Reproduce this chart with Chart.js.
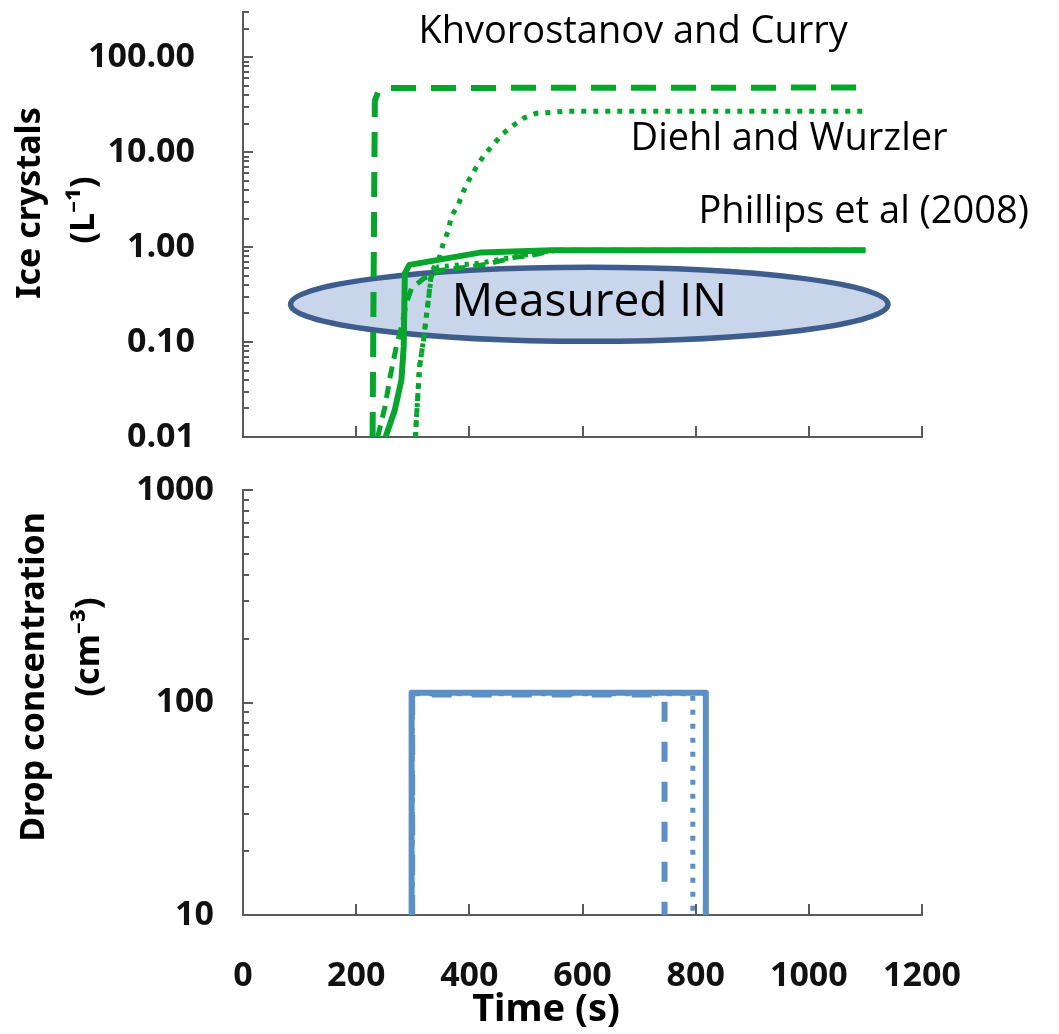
<!DOCTYPE html>
<html>
<head>
<meta charset="utf-8">
<script src="https://cdn.jsdelivr.net/npm/chart.js@4.4.1/dist/chart.umd.min.js"></script>
<style>
  html, body { margin: 0; padding: 0; background: #fff; }
  #wrap { position: relative; width: 1059px; height: 1034px; }
  canvas { position: absolute; left: 0; }
</style>
</head>
<body>
<div id="wrap">
  <canvas id="ice" width="1059" height="460" style="top:0"></canvas>
  <canvas id="drop" width="1059" height="574" style="top:460px"></canvas>
</div>
<script>
// ── Datos ─────────────────────────────────────────────────────────────────
const xTicks    = [0, 200, 400, 600, 800, 1000, 1200];
const iceTicks  = [0.01, 0.1, 1, 10, 100];
const dropTicks = [10, 100, 1000];

// Khvorostanov and Curry (guiones largos)
const kcTime = [229, 233, 240, 255, 1100];
const kcIce  = [0.01, 35, 45, 47.5, 48];
// Diehl and Wurzler (punteado)
const dwTime = [305, 306, 312, 319, 327, 333, 347, 354, 363, 368, 380, 389, 400, 412, 426, 442, 460, 477, 497, 518, 544, 568, 1100];
const dwIce  = [0.01, 0.014, 0.055, 0.105, 0.26, 0.54, 0.78, 1.1, 1.5, 2.1, 2.75, 3.8, 5.2, 6.9, 9.3, 12, 15.8, 19, 23, 25.7, 26.3, 27, 27];
// Phillips et al (2008) (continua)
const phTime = [252, 268, 280, 284, 286, 294, 421, 545, 1100];
const phIce  = [0.01, 0.019, 0.04, 0.089, 0.53, 0.65, 0.88, 0.93, 0.93];
// Measured IN, guiones cortos
const miDashTime = [238, 251, 260, 271, 280, 289, 298, 320, 350, 400, 430, 480, 510, 540, 560, 1100];
const miDashIce  = [0.01, 0.021, 0.043, 0.09, 0.145, 0.26, 0.37, 0.47, 0.57, 0.62, 0.66, 0.78, 0.82, 0.9, 0.93, 0.93];
// Measured IN, punteado
const miDotTime = [305, 306, 312, 319, 327, 333, 345, 420, 480, 545, 1100];
const miDotIce  = [0.01, 0.014, 0.055, 0.105, 0.26, 0.5, 0.62, 0.68, 0.79, 0.92, 0.93];

// Drop concentration
const dropSolidTime  = [298, 298, 818, 818];
const dropSolidConc  = [10, 111, 111, 10];
const dropDashTime   = [299, 299, 745, 745];
const dropDashConc   = [10, 109, 109, 10];
const dropDotTime    = [299, 299, 795, 795];
const dropDotConc    = [10, 110, 110, 10];

// ── Estilos ───────────────────────────────────────────────────────────────
const GREEN = '#06a52b';
const BLUE  = '#5b8fc8';
const AXIS  = '#5a5a5a';
const TICK_FONT  = { family: '"Open Sans", sans-serif', size: 34, weight: 'bold' };
const TITLE_FONT = 'bold 34px "Noto Sans", "Open Sans", sans-serif';

const pts = (xs, ys) => xs.map((x, i) => ({ x, y: ys[i] }));

const minorTicks = (lo, hi) => {
  const out = [];
  for (let d = lo; d < hi; d *= 10)
    for (let k = 2; k <= 9; k++) if (k * d <= hi * 1.0001) out.push(k * d);
  return out;
};

// ── Plugins ───────────────────────────────────────────────────────────────
const innerTicks = {
  id: 'innerTicks',
  afterDraw(chart, args, opts) {
    const { ctx, chartArea: a, scales: { x, y } } = chart;
    ctx.save();
    ctx.strokeStyle = AXIS;
    ctx.lineWidth = 2;
    ctx.beginPath();
    opts.xValues.forEach(v => {
      const px = Math.round(x.getPixelForValue(v));
      ctx.moveTo(px, a.bottom); ctx.lineTo(px, a.bottom - 11);
    });
    opts.yMajor.forEach(v => {
      const py = Math.round(y.getPixelForValue(v));
      ctx.moveTo(a.left, py); ctx.lineTo(a.left + 10, py);
    });
    opts.yMinor.forEach(v => {
      const py = Math.round(y.getPixelForValue(v));
      ctx.moveTo(a.left, py); ctx.lineTo(a.left + 6, py);
    });
    ctx.stroke();
    ctx.restore();
  }
};

const axisTitles = {
  id: 'axisTitles',
  afterDraw(chart, args, opts) {
    const ctx = chart.ctx;
    ctx.save();
    ctx.fillStyle = '#000';
    ctx.textAlign = 'center';
    ctx.textBaseline = 'middle';
    opts.items.forEach(t => {
      ctx.save();
      ctx.font = t.font || TITLE_FONT;
      ctx.translate(t.x, t.y);
      ctx.rotate(t.rot || 0);
      ctx.fillText(t.text, 0, 0);
      ctx.restore();
    });
    ctx.restore();
  }
};

// óvalo "Measured IN" + rótulos de las curvas, en coordenadas de datos
const notes = {
  id: 'notes',
  beforeDatasetsDraw(chart) {
    const { ctx, scales: { x, y } } = chart;
    const cx = x.getPixelForValue(612), cy = y.getPixelForValue(0.25);
    const rx = Math.abs(x.getPixelForValue(612 + 528) - cx);
    const ry = Math.abs(y.getPixelForValue(0.25 * Math.pow(10, 0.39)) - cy);
    ctx.save();
    ctx.beginPath();
    ctx.ellipse(cx, cy, rx, ry, 0, 0, Math.PI * 2);
    ctx.fillStyle = '#c8d5ea';
    ctx.fill();
    ctx.lineWidth = 5.5;
    ctx.strokeStyle = '#3e5d8c';
    ctx.stroke();
    ctx.restore();
  },
  afterDatasetsDraw(chart) {
    const { ctx, scales: { x, y } } = chart;
    ctx.save();
    ctx.fillStyle = '#000';
    ctx.font = '38px "Open Sans", sans-serif';
    ctx.textAlign = 'left';
    ctx.textBaseline = 'alphabetic';
    ctx.fillText('Khvorostanov and Curry', x.getPixelForValue(310), y.getPixelForValue(140));
    ctx.fillText('Diehl and Wurzler', x.getPixelForValue(685), y.getPixelForValue(10.5));
    ctx.fillText('Phillips et al (2008)', x.getPixelForValue(805), y.getPixelForValue(1.78));
    ctx.font = '46px "Open Sans", sans-serif';
    ctx.textAlign = 'center';
    ctx.textBaseline = 'middle';
    ctx.fillText('Measured IN', x.getPixelForValue(612), y.getPixelForValue(0.26));
    ctx.restore();
  }
};

const line = (data, color, width, dash, extra = {}) => ({
  data, borderColor: color, borderWidth: width, borderDash: dash,
  pointRadius: 0, tension: 0, fill: false,
  borderJoinStyle: 'round', borderCapStyle: 'butt', ...extra,
});

const xScale = (showLabels, height) => ({
  type: 'linear', min: 0, max: 1200,
  afterBuildTicks: s => { s.ticks = xTicks.map(v => ({ value: v })); },
  afterFit: s => { s.height = height; s.paddingLeft = 0; s.paddingRight = 0; },
  grid: { display: false },
  border: { display: true, color: AXIS, width: 2 },
  ticks: { display: showLabels, font: TICK_FONT, color: '#111', padding: 33, maxRotation: 0, callback: v => String(v) },
});

const yScale = (min, max, ticks, fmt, pad) => ({
  type: 'logarithmic', min, max,
  afterBuildTicks: s => { s.ticks = ticks.map(v => ({ value: v })); },
  afterFit: s => { s.width = 243; s.paddingTop = 0; s.paddingBottom = 0; },
  grid: { display: false },
  border: { display: true, color: AXIS, width: 2 },
  ticks: { font: TICK_FONT, color: '#111', padding: pad, callback: fmt },
});

// ── Panel superior: Ice crystals ─────────────────────────────────────────
new Chart(document.getElementById('ice'), {
  type: 'line',
  data: {
    datasets: [
      line(pts(phTime, phIce), GREEN, 6, []),
      line(pts(kcTime, kcIce), GREEN, 6, [25, 15]),
      line(pts(dwTime, dwIce), GREEN, 5, [5, 7]),
      line(pts(miDashTime, miDashIce), GREEN, 5, [12, 8]),
      line(pts(miDotTime, miDotIce), GREEN, 5, [4, 6]),
    ],
  },
  options: {
    responsive: false, animation: false,
    layout: { padding: { top: 12, right: 137, left: 0, bottom: 0 } },
    plugins: {
      legend: { display: false }, tooltip: { enabled: false },
      innerTicks: { xValues: xTicks, yMajor: iceTicks, yMinor: minorTicks(0.01, 300) },
      axisTitles: { items: [
        { text: 'Ice crystals', x: 30, y: 203, rot: -Math.PI / 2 },
        { text: '(L⁻¹)', x: 84, y: 210, rot: -Math.PI / 2 },
      ] },
    },
    scales: {
      x: xScale(false, 23),
      y: yScale(0.01, 300, iceTicks, v => Number(v).toFixed(2), 40),
    },
  },
  plugins: [notes, innerTicks, axisTitles],
});

// ── Panel inferior: Drop concentration ───────────────────────────────────
new Chart(document.getElementById('drop'), {
  type: 'line',
  data: {
    datasets: [
      line(pts(dropDashTime, dropDashConc), BLUE, 6, [20, 20]),
      line(pts(dropDotTime, dropDotConc), BLUE, 5, [5, 9]),
      line(pts(dropSolidTime, dropSolidConc), BLUE, 6, []),
    ],
  },
  options: {
    responsive: false, animation: false,
    layout: { padding: { top: 30, right: 137, left: 0, bottom: 0 } },
    plugins: {
      legend: { display: false }, tooltip: { enabled: false },
      innerTicks: { xValues: xTicks, yMajor: dropTicks, yMinor: minorTicks(10, 1000) },
      axisTitles: { items: [
        { text: 'Drop concentration', x: 34, y: 217, rot: -Math.PI / 2 },
        { text: '(cm⁻³)', x: 89, y: 187, rot: -Math.PI / 2 },
        { text: 'Time (s)', x: 546, y: 550, rot: 0, font: 'bold 38px "Noto Sans", "Open Sans", sans-serif' },
      ] },
    },
    scales: {
      x: xScale(true, 119),
      y: yScale(10, 1000, dropTicks, v => String(v), 21),
    },
  },
  plugins: [innerTicks, axisTitles],
});
</script>
</body>
</html>
